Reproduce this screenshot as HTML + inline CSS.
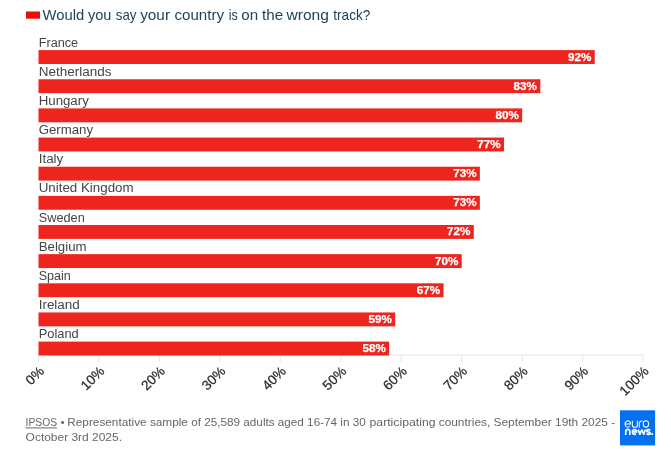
<!DOCTYPE html>
<html><head><meta charset="utf-8"><title>Would you say your country is on the wrong track?</title>
<style>
html,body{margin:0;padding:0;background:#fff;}
body{width:671px;height:459px;overflow:hidden;font-family:"Liberation Sans",sans-serif;}
svg{display:block;position:absolute;left:0;top:0;will-change:transform;filter:blur(0.4px);}
text{font-family:"Liberation Sans",sans-serif;}
.lab{font-size:12.3px;fill:#444444;}
.val{font-size:11px;font-weight:bold;fill:#fff;stroke:#fff;stroke-width:0.25px;text-anchor:end;}
.tick{font-size:13.5px;fill:#2a2a2a;stroke:#2a2a2a;stroke-width:0.25px;text-anchor:end;}
.foot{font-size:11.3px;fill:#666;}
</style></head><body>
<svg width="671" height="459" viewBox="0 0 671 459">

<rect x="26" y="11.5" width="14" height="7.2" fill="#ec0f06"/>
<text x="42.50" y="20.4" font-size="14.3px" fill="#1f4359" textLength="41.70" lengthAdjust="spacingAndGlyphs">Would</text>
<text x="87.90" y="20.4" font-size="14.3px" fill="#1f4359" textLength="23.50" lengthAdjust="spacingAndGlyphs">you</text>
<text x="115.80" y="20.4" font-size="14.3px" fill="#1f4359" textLength="20.70" lengthAdjust="spacingAndGlyphs">say</text>
<text x="140.20" y="20.4" font-size="14.3px" fill="#1f4359" textLength="29.80" lengthAdjust="spacingAndGlyphs">your</text>
<text x="174.50" y="20.4" font-size="14.3px" fill="#1f4359" textLength="49.50" lengthAdjust="spacingAndGlyphs">country</text>
<text x="228.80" y="20.4" font-size="14.3px" fill="#1f4359" textLength="9.00" lengthAdjust="spacingAndGlyphs">is</text>
<text x="241.30" y="20.4" font-size="14.3px" fill="#1f4359" textLength="16.80" lengthAdjust="spacingAndGlyphs">on</text>
<text x="262.00" y="20.4" font-size="14.3px" fill="#1f4359" textLength="21.10" lengthAdjust="spacingAndGlyphs">the</text>
<text x="286.50" y="20.4" font-size="14.3px" fill="#1f4359" textLength="42.40" lengthAdjust="spacingAndGlyphs">wrong</text>
<text x="333.30" y="20.4" font-size="14.3px" fill="#1f4359" textLength="37.00" lengthAdjust="spacingAndGlyphs">track?</text>
<g stroke="#e8e8e8" stroke-width="1" fill="none">
<line x1="38.50" y1="355.00" x2="643.10" y2="355.00"/>
<line x1="38.50" y1="355.00" x2="38.50" y2="362.30"/>
<line x1="98.96" y1="355.00" x2="98.96" y2="362.30"/>
<line x1="159.42" y1="355.00" x2="159.42" y2="362.30"/>
<line x1="219.88" y1="355.00" x2="219.88" y2="362.30"/>
<line x1="280.34" y1="355.00" x2="280.34" y2="362.30"/>
<line x1="340.80" y1="355.00" x2="340.80" y2="362.30"/>
<line x1="401.26" y1="355.00" x2="401.26" y2="362.30"/>
<line x1="461.72" y1="355.00" x2="461.72" y2="362.30"/>
<line x1="522.18" y1="355.00" x2="522.18" y2="362.30"/>
<line x1="582.64" y1="355.00" x2="582.64" y2="362.30"/>
<line x1="643.10" y1="355.00" x2="643.10" y2="362.30"/>
</g>
<rect x="38.50" y="50.10" width="556.23" height="13.90" fill="#ee251e"/>
<text class="lab" x="38.7" y="46.85" textLength="39.40" lengthAdjust="spacingAndGlyphs">France</text>
<text class="val" x="591.43" y="60.50" textLength="23.4" lengthAdjust="spacingAndGlyphs">92%</text>
<rect x="38.50" y="79.25" width="501.82" height="13.90" fill="#ee251e"/>
<text class="lab" x="38.7" y="75.96" textLength="72.70" lengthAdjust="spacingAndGlyphs">Netherlands</text>
<text class="val" x="537.02" y="89.65" textLength="23.4" lengthAdjust="spacingAndGlyphs">83%</text>
<rect x="38.50" y="108.40" width="483.68" height="13.90" fill="#ee251e"/>
<text class="lab" x="38.7" y="105.07" textLength="50.10" lengthAdjust="spacingAndGlyphs">Hungary</text>
<text class="val" x="518.88" y="118.80" textLength="23.4" lengthAdjust="spacingAndGlyphs">80%</text>
<rect x="38.50" y="137.55" width="465.54" height="13.90" fill="#ee251e"/>
<text class="lab" x="38.7" y="134.18" textLength="54.40" lengthAdjust="spacingAndGlyphs">Germany</text>
<text class="val" x="500.74" y="147.95" textLength="23.4" lengthAdjust="spacingAndGlyphs">77%</text>
<rect x="38.50" y="166.70" width="441.36" height="13.90" fill="#ee251e"/>
<text class="lab" x="38.7" y="163.29" textLength="24.60" lengthAdjust="spacingAndGlyphs">Italy</text>
<text class="val" x="476.56" y="177.10" textLength="23.4" lengthAdjust="spacingAndGlyphs">73%</text>
<rect x="38.50" y="195.85" width="441.36" height="13.90" fill="#ee251e"/>
<text class="lab" x="38.7" y="192.40" textLength="94.90" lengthAdjust="spacingAndGlyphs">United Kingdom</text>
<text class="val" x="476.56" y="206.25" textLength="23.4" lengthAdjust="spacingAndGlyphs">73%</text>
<rect x="38.50" y="225.00" width="435.31" height="13.90" fill="#ee251e"/>
<text class="lab" x="38.7" y="221.51" textLength="46.10" lengthAdjust="spacingAndGlyphs">Sweden</text>
<text class="val" x="470.51" y="235.40" textLength="23.4" lengthAdjust="spacingAndGlyphs">72%</text>
<rect x="38.50" y="254.15" width="423.22" height="13.90" fill="#ee251e"/>
<text class="lab" x="38.7" y="250.62" textLength="47.90" lengthAdjust="spacingAndGlyphs">Belgium</text>
<text class="val" x="458.42" y="264.55" textLength="23.4" lengthAdjust="spacingAndGlyphs">70%</text>
<rect x="38.50" y="283.30" width="405.08" height="13.90" fill="#ee251e"/>
<text class="lab" x="38.7" y="279.73" textLength="32.10" lengthAdjust="spacingAndGlyphs">Spain</text>
<text class="val" x="440.28" y="293.70" textLength="23.4" lengthAdjust="spacingAndGlyphs">67%</text>
<rect x="38.50" y="312.45" width="356.71" height="13.90" fill="#ee251e"/>
<text class="lab" x="38.7" y="308.84" textLength="41.10" lengthAdjust="spacingAndGlyphs">Ireland</text>
<text class="val" x="391.91" y="322.85" textLength="23.4" lengthAdjust="spacingAndGlyphs">59%</text>
<rect x="38.50" y="341.60" width="350.67" height="13.90" fill="#ee251e"/>
<text class="lab" x="38.7" y="337.95" textLength="40.10" lengthAdjust="spacingAndGlyphs">Poland</text>
<text class="val" x="385.87" y="352.00" textLength="23.4" lengthAdjust="spacingAndGlyphs">58%</text>
<text class="tick" transform="translate(44.90,372.00) rotate(-45)" x="0" y="0">0%</text>
<text class="tick" transform="translate(105.36,372.00) rotate(-45)" x="0" y="0">10%</text>
<text class="tick" transform="translate(165.82,372.00) rotate(-45)" x="0" y="0">20%</text>
<text class="tick" transform="translate(226.28,372.00) rotate(-45)" x="0" y="0">30%</text>
<text class="tick" transform="translate(286.74,372.00) rotate(-45)" x="0" y="0">40%</text>
<text class="tick" transform="translate(347.20,372.00) rotate(-45)" x="0" y="0">50%</text>
<text class="tick" transform="translate(407.66,372.00) rotate(-45)" x="0" y="0">60%</text>
<text class="tick" transform="translate(468.12,372.00) rotate(-45)" x="0" y="0">70%</text>
<text class="tick" transform="translate(528.58,372.00) rotate(-45)" x="0" y="0">80%</text>
<text class="tick" transform="translate(589.04,372.00) rotate(-45)" x="0" y="0">90%</text>
<text class="tick" transform="translate(649.50,372.00) rotate(-45)" x="0" y="0">100%</text>
<text class="foot" x="25.6" y="426.1" textLength="31.6" lengthAdjust="spacingAndGlyphs">IPSOS</text>
<line x1="25.5" y1="427.9" x2="56.9" y2="427.9" stroke="#666" stroke-width="1"/>
<text class="foot" x="60.40" y="426.1" textLength="4.20" lengthAdjust="spacingAndGlyphs">•</text>
<text class="foot" x="67.30" y="426.1" textLength="120.60" lengthAdjust="spacingAndGlyphs">Representative sample</text>
<text class="foot" x="191.30" y="426.1" textLength="174.40" lengthAdjust="spacingAndGlyphs">of 25,589 adults aged 16-74 in 30</text>
<text class="foot" x="369.50" y="426.1" textLength="66.10" lengthAdjust="spacingAndGlyphs">participating</text>
<text class="foot" x="438.70" y="426.1" textLength="176.50" lengthAdjust="spacingAndGlyphs">countries, September 19th 2025 -</text>
<text class="foot" x="25.6" y="441.1" textLength="96.4" lengthAdjust="spacingAndGlyphs">October 3rd 2025.</text>
<rect x="620" y="410.3" width="35.1" height="35.1" fill="#0570ef"/>
<g fill="none" stroke="#fff" stroke-width="1" stroke-linecap="round" stroke-linejoin="round" transform="translate(624.8,0) scale(1.045,1) translate(-624.8,0)">
<path d="M625.1,424 H630.3 A2.65,3.2 0 1 0 629.5,426.3"/>
<path d="M632,420.9 V424.9 A2.4,2.4 0 0 0 636.8,424.9 V420.9"/>
<path d="M638.6,427.2 V423.3 A2.5,2.5 0 0 1 641.3,420.9"/>
<ellipse cx="645" cy="424" rx="2.6" ry="3.15"/>
</g>
<g fill="none" stroke="#fff" stroke-width="1.65" stroke-linecap="butt" transform="translate(0,432.2) scale(1,1.06) translate(0,-432.2)" stroke-linejoin="round">
<path d="M625.7,434.9 V431.7 A2.05,2.1 0 0 1 629.8,431.7 V434.9"/>
<path d="M632.4,431.9 H636.6 A2.1,2.25 0 1 0 635.9,433.6"/>
<path d="M638.2,429.6 L639.9,434 L641.8,430.1 L643.7,434 L645.4,429.6"/>
<path d="M650.3,430.6 C649.2,429.5 646.8,429.6 646.8,431 C646.8,432.5 650.3,431.7 650.3,433.2 C650.3,434.6 647.6,434.6 646.5,433.5"/>
</g>
<circle cx="652.2" cy="434" r="1" fill="#fff"/>
</svg></body></html>
